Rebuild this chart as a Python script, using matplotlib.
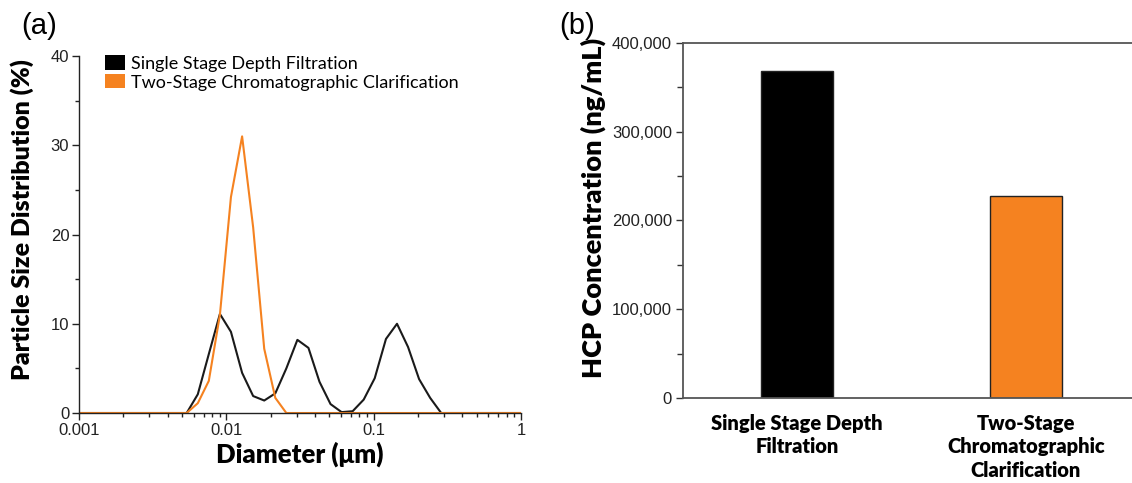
import matplotlib
matplotlib.use("Agg")
import matplotlib.pyplot as plt
from matplotlib.ticker import FixedLocator, MultipleLocator, FuncFormatter, LogLocator, NullFormatter
from matplotlib.patches import Patch

# ---- Data: panel (a) particle size distribution ----
diameter_um = [0.001, 0.00538, 0.00640, 0.00760, 0.00904, 0.01074, 0.01279, 0.01520,
               0.01807, 0.02148, 0.02553, 0.03034, 0.03606, 0.04285, 0.05093,
               0.06053, 0.07194, 0.08551, 0.1016, 0.1211, 0.1439, 0.1710,
               0.2032, 0.2415, 0.2871, 1.0]
single_stage_pct = [0, 0, 2.1, 6.6, 11.1, 9.1, 4.5, 1.9, 1.4, 2.2, 5.0, 8.2, 7.3, 3.5,
                    1.0, 0.1, 0.2, 1.5, 3.9, 8.3, 10.0, 7.4, 3.8, 1.7, 0, 0]
two_stage_pct = [0, 0, 1.1, 3.6, 11.0, 24.2, 31.0, 20.8, 7.2, 1.7, 0, 0, 0, 0,
                 0, 0, 0, 0, 0, 0, 0, 0, 0, 0, 0, 0]
series_names = ["Single Stage Depth Filtration", "Two-Stage Chromatographic Clarification"]

# ---- Data: panel (b) HCP concentration ----
categories = ["Single Stage Depth\nFiltration", "Two-Stage\nChromatographic\nClarification"]
hcp_ng_ml = [368000, 227000]

BLACK = "#000000"
ORANGE = "#F58220"
LABEL_FONT = ["Lato", "DejaVu Sans"]
TICK_FONT = ["Liberation Sans", "DejaVu Sans"]

fig = plt.figure(figsize=(11.32, 4.83), dpi=100)

# ---------- Panel (a) ----------
ax1 = fig.add_axes([0.0698, 0.1449, 0.3905, 0.739])
ax1.plot(diameter_um, single_stage_pct, color="#1a1a1a", lw=1.5)
ax1.plot(diameter_um, two_stage_pct, color=ORANGE, lw=1.5)
ax1.set_xscale("log")
ax1.set_xlim(0.001, 1)
ax1.set_ylim(0, 40)
for s in ["top", "right"]:
    ax1.spines[s].set_visible(False)
for s in ["left", "bottom"]:
    ax1.spines[s].set_color("#222222")
    ax1.spines[s].set_linewidth(1.0)
ax1.yaxis.set_major_locator(FixedLocator([0, 10, 20, 30, 40]))
ax1.yaxis.set_minor_locator(MultipleLocator(5))
ax1.xaxis.set_major_locator(FixedLocator([0.001, 0.01, 0.1, 1]))
ax1.xaxis.set_major_formatter(FuncFormatter(lambda v, p: {0.001: "0.001", 0.01: "0.01", 0.1: "0.1", 1: "1"}.get(round(v, 3), "")))
ax1.xaxis.set_minor_locator(LogLocator(base=10, subs=range(2, 10)))
ax1.xaxis.set_minor_formatter(NullFormatter())
ax1.tick_params(axis="both", which="major", direction="out", length=5, width=1, color="#222222",
                labelsize=12, pad=2)
ax1.tick_params(axis="both", which="minor", direction="out", length=3, width=1, color="#222222")
for lab in ax1.get_xticklabels() + ax1.get_yticklabels():
    lab.set_fontfamily(TICK_FONT)
    lab.set_color("#222222")
ax1.set_xlabel("Diameter (μm)", fontsize=18.5, fontweight="heavy", family=LABEL_FONT, labelpad=3)
ax1.set_ylabel("Particle Size Distribution (%)", fontsize=18, fontweight="heavy", family=LABEL_FONT)
ax1.yaxis.set_label_coords(-0.102, 0.543)
handles = [Patch(facecolor=BLACK, edgecolor="none"), Patch(facecolor=ORANGE, edgecolor="none")]
leg = ax1.legend(handles, series_names, loc="upper left", bbox_to_anchor=(0.043, 1.022),
                 frameon=False, prop={"family": LABEL_FONT, "size": 13},
                 handlelength=1.1, handleheight=0.85, handletextpad=0.3, labelspacing=0.12,
                 borderaxespad=0)
fig.text(0.019, 0.975, "(a)", fontsize=21, family=TICK_FONT, va="top", ha="left")

# ---------- Panel (b) ----------
ax2 = fig.add_axes([0.6034, 0.1754, 0.3966, 0.7362])
xpos = list(range(len(categories)))
ax2.bar(xpos, hcp_ng_ml, width=0.315, color=[BLACK, ORANGE], edgecolor="#222222", linewidth=1.0)
ax2.set_xlim(-0.498, 1.463)
ax2.set_ylim(0, 400000)
ax2.spines["right"].set_visible(False)
for s in ["left", "bottom", "top"]:
    ax2.spines[s].set_color("#555555")
    ax2.spines[s].set_linewidth(1.3)
ax2.yaxis.set_major_locator(FixedLocator([0, 100000, 200000, 300000, 400000]))
ax2.yaxis.set_minor_locator(MultipleLocator(50000))
ax2.yaxis.set_major_formatter(FuncFormatter(lambda v, p: f"{int(v):,}"))
ax2.tick_params(axis="y", which="major", direction="out", length=5, width=1, color="#333333",
                labelsize=12, pad=3)
ax2.tick_params(axis="y", which="minor", direction="out", length=4, width=1, color="#333333")
ax2.set_xticks(xpos)
ax2.set_xticklabels(categories, fontsize=14.5, fontweight="heavy", family=LABEL_FONT, linespacing=1.3)
ax2.tick_params(axis="x", which="both", length=0, pad=11)
for lab in ax2.get_yticklabels():
    lab.set_fontfamily(TICK_FONT)
    lab.set_color("#222222")
ax2.set_ylabel("HCP Concentration (ng/mL)", fontsize=19.5, fontweight="heavy", family=LABEL_FONT)
ax2.yaxis.set_label_coords(-0.172, 0.534)
fig.text(0.494, 0.975, "(b)", fontsize=21, family=TICK_FONT, va="top", ha="left")

fig.savefig("out.png", dpi=100)
